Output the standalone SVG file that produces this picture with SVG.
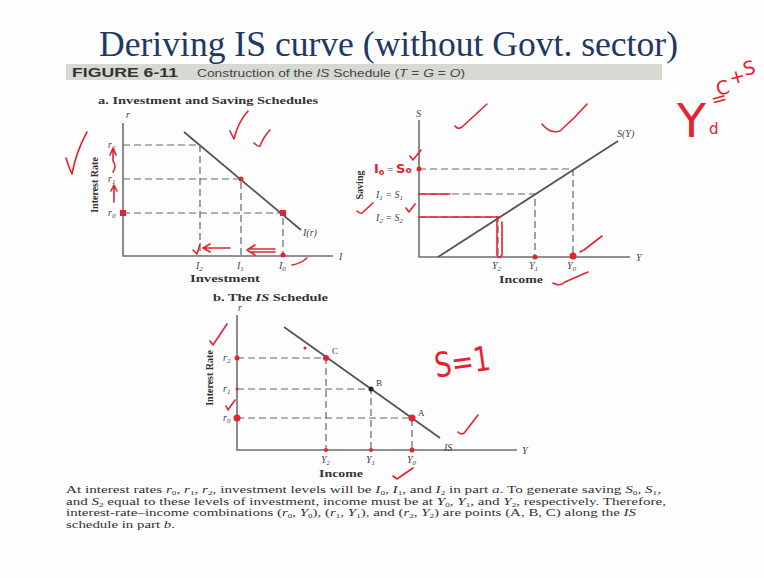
<svg xmlns="http://www.w3.org/2000/svg" width="764" height="578" viewBox="0 0 764 578">
<style>
.ax{stroke:#6e6e6e;stroke-width:1.6;fill:none}
.ds{stroke:#666;stroke-width:1.2;stroke-dasharray:7 4;fill:none}
.cv{stroke:#555;stroke-width:1.8;fill:none}
.lb{font-family:"Liberation Serif",serif;font-style:italic;font-size:10px;fill:#444}
.bd{font-family:"Liberation Serif",serif;font-weight:bold;font-size:10px;fill:#333}
.cap{font-family:"Liberation Serif",serif;font-size:10.8px;fill:#333}
.rd{stroke:#e3232e;stroke-width:1.6;fill:none;stroke-linecap:round;stroke-linejoin:round}
.rf{fill:#e3232e}
.hw{font-family:"DejaVu Sans",sans-serif;fill:#e3232e}
.sb{font-size:7px;baseline-shift:-2px}
.cs{font-size:6.5px;baseline-shift:-1.5px}
</style>
<rect width="764" height="578" fill="#fdfdfd"/>
<g id="title">
<text x="99" y="56" font-family="Liberation Serif,serif" font-size="36" fill="#1f3864" textLength="579" lengthAdjust="spacingAndGlyphs">Deriving IS curve (without Govt. sector)</text>
</g>
<g id="header">
<rect x="66" y="64" width="596" height="16" fill="#d6d9d1"/>
<text x="72" y="77" font-family="Liberation Sans,sans-serif" font-weight="bold" font-size="12" fill="#333" textLength="106" lengthAdjust="spacingAndGlyphs">FIGURE 6-11</text>
<text x="197" y="77" font-family="Liberation Sans,sans-serif" font-size="10" fill="#444" textLength="268" lengthAdjust="spacingAndGlyphs">Construction of the <tspan font-style="italic">IS</tspan> Schedule (<tspan font-style="italic">T</tspan> = <tspan font-style="italic">G</tspan> = <tspan font-style="italic">O</tspan>)</text>
<text x="98" y="104" class="bd" font-size="11" textLength="220" lengthAdjust="spacingAndGlyphs">a. Investment and Saving Schedules</text>
</g>
<g id="panel-investment">
<path class="ax" d="M123,123 V256 H333"/>
<text x="126" y="118" class="lb" font-size="9">r</text>
<text x="339" y="260" class="lb">I</text>
<path class="ds" d="M123,145 H200 V256 M123,179 H241 V256 M123,213 H283 V256"/>
<path class="cv" d="M184,132 L301,230"/>
<text x="303" y="236" class="lb" font-size="9">I(r)</text>
<text x="108" y="148" class="lb">r<tspan class="sb">2</tspan></text>
<text x="108" y="182" class="lb">r<tspan class="sb">1</tspan></text>
<text x="108" y="216" class="lb">r<tspan class="sb">0</tspan></text>
<text x="196" y="269" class="lb">I<tspan class="sb">2</tspan></text>
<text x="237" y="269" class="lb">I<tspan class="sb">1</tspan></text>
<text x="279" y="269" class="lb">I<tspan class="sb">0</tspan></text>
<text x="190" y="282" class="bd" font-size="10" textLength="70" lengthAdjust="spacingAndGlyphs">Investment</text>
<text transform="translate(98,185) rotate(-90)" class="bd" font-size="9.5" text-anchor="middle">Interest Rate</text>
</g>
<g id="panel-saving">
<path class="ax" d="M419,120 V257 H630"/>
<text x="416" y="117" class="lb" font-size="9">S</text>
<text x="636" y="261" class="lb" font-size="9">Y</text>
<path class="ds" d="M419,169 H573 V257 M419,194 H535 V257 M419,217 H498 V257"/>
<path class="cv" d="M438,257 L618,141"/>
<text x="617" y="137" class="lb" font-size="9">S(Y)</text>
<text x="376" y="198" class="lb">I<tspan class="sb">1</tspan> = S<tspan class="sb">1</tspan></text>
<text x="376" y="221" class="lb">I<tspan class="sb">2</tspan> = S<tspan class="sb">2</tspan></text>
<text x="492" y="269" class="lb">Y<tspan class="sb">2</tspan></text>
<text x="529" y="269" class="lb">Y<tspan class="sb">1</tspan></text>
<text x="567" y="269" class="lb">Y<tspan class="sb">0</tspan></text>
<text x="499" y="283" class="bd" font-size="10" textLength="44" lengthAdjust="spacingAndGlyphs">Income</text>
<text transform="translate(363,185) rotate(-90)" class="bd" font-size="9.5" text-anchor="middle">Saving</text>
</g>
<g id="panel-is">
<text x="213" y="301" class="bd" font-size="11" textLength="115" lengthAdjust="spacingAndGlyphs">b. The <tspan font-style="italic">IS</tspan> Schedule</text>
<path class="ax" d="M237,315 V450 H517"/>
<text x="238" y="311" class="lb" font-size="9">r</text>
<text x="522" y="454" class="lb" font-size="9">Y</text>
<path class="ds" d="M237,358 H326 V450 M237,389 H371 V450 M237,418 H412 V450"/>
<path class="cv" d="M284,327 L440,438"/>
<text x="444" y="451" class="lb" font-size="9">IS</text>
<text x="332" y="354" font-family="Liberation Serif,serif" font-size="9" fill="#333">C</text>
<text x="376" y="386" font-family="Liberation Serif,serif" font-size="9" fill="#333">B</text>
<text x="418" y="416" font-family="Liberation Serif,serif" font-size="9" fill="#333">A</text>
<circle cx="371" cy="389" r="2.5" fill="#222"/>
<text x="223" y="361" class="lb" font-size="9">r<tspan class="sb">2</tspan></text>
<text x="223" y="392" class="lb" font-size="9">r<tspan class="sb">1</tspan></text>
<text x="223" y="421" class="lb" font-size="9">r<tspan class="sb">0</tspan></text>
<text x="321" y="463" class="lb" font-size="9">Y<tspan class="sb">2</tspan></text>
<text x="366" y="463" class="lb" font-size="9">Y<tspan class="sb">1</tspan></text>
<text x="407" y="463" class="lb" font-size="9">Y<tspan class="sb">0</tspan></text>
<text x="319" y="477" class="bd" font-size="10" textLength="44" lengthAdjust="spacingAndGlyphs">Income</text>
<text transform="translate(213,378) rotate(-90)" class="bd" font-size="9.5" text-anchor="middle">Interest Rate</text>
</g>
<g id="caption" class="cap">
<text x="66" y="493" textLength="595" lengthAdjust="spacingAndGlyphs">At interest rates <tspan font-style="italic">r</tspan><tspan class="cs">0</tspan>, <tspan font-style="italic">r</tspan><tspan class="cs">1</tspan>, <tspan font-style="italic">r</tspan><tspan class="cs">2</tspan>, investment levels will be <tspan font-style="italic">I</tspan><tspan class="cs">0</tspan>, <tspan font-style="italic">I</tspan><tspan class="cs">1</tspan>, and <tspan font-style="italic">I</tspan><tspan class="cs">2</tspan> in part <tspan font-style="italic">a</tspan>. To generate saving <tspan font-style="italic">S</tspan><tspan class="cs">0</tspan>, <tspan font-style="italic">S</tspan><tspan class="cs">1</tspan>,</text>
<text x="66" y="504.5" textLength="600" lengthAdjust="spacingAndGlyphs">and <tspan font-style="italic">S</tspan><tspan class="cs">2</tspan> equal to these levels of investment, income must be at <tspan font-style="italic">Y</tspan><tspan class="cs">0</tspan>, <tspan font-style="italic">Y</tspan><tspan class="cs">1</tspan>, and <tspan font-style="italic">Y</tspan><tspan class="cs">2</tspan>, respectively. Therefore,</text>
<text x="66" y="516" textLength="570" lengthAdjust="spacingAndGlyphs">interest-rate–income combinations (<tspan font-style="italic">r</tspan><tspan class="cs">0</tspan>, <tspan font-style="italic">Y</tspan><tspan class="cs">0</tspan>), (<tspan font-style="italic">r</tspan><tspan class="cs">1</tspan>, <tspan font-style="italic">Y</tspan><tspan class="cs">1</tspan>), and (<tspan font-style="italic">r</tspan><tspan class="cs">2</tspan>, <tspan font-style="italic">Y</tspan><tspan class="cs">2</tspan>) are points (A, B, C) along the <tspan font-style="italic">IS</tspan></text>
<text x="66" y="527.5" textLength="109" lengthAdjust="spacingAndGlyphs">schedule in part <tspan font-style="italic">b</tspan>.</text>
</g>
<g id="annotations">
<rect x="120" y="210" width="6" height="6" class="rf"/>
<circle cx="241" cy="179" r="2.5" class="rf"/>
<rect x="280" y="210" width="6" height="6" class="rf"/>
<circle cx="283" cy="255" r="2.5" class="rf"/>
<path class="rd" d="M114,202 L114,186 M111,191 L114,185 L117,191 M113,172 Q117,166 113,161 L113,150 M110,155 L113,148 L116,155"/>
<path class="rd" d="M230,248 L204,248 M210,244 L203,248 L210,252 M275,249 L249,249 M275,252 L251,252 M255,245 L247,250 L255,255"/>
<path class="rd" d="M66,158 Q69,168 72,174 Q76,152 87,132 M230,131 L234,139 Q238,122 248,111 M254,143 Q258,147 260,146 Q264,136 270,130 M455,126 Q458,130 462,127 L487,104 M542,124 Q550,134 560,131 Q575,118 587,104 M410,156 L413,160 L421,150 M357,211 Q360,214 362,213 L373,203 M406,208 L409,212 L415,204 M580,252 L584,250 L602,236 M553,283 Q560,287 565,282 L588,272 M292,265 Q300,264 307,258 M193,250 L197,254 L200,244 M210,341 L213,345 L227,324 M226,406 L228,410 L235,400 M458,432 Q462,436 465,432 L478,415 M393,476 L397,479 L413,468"/>
<text x="374" y="173" class="hw" font-size="13" font-weight="bold">I<tspan font-size="8" baseline-shift="-2px">o</tspan><tspan fill="#555" font-family="Liberation Serif,serif" font-weight="normal" font-size="11"> = </tspan>S<tspan font-size="9">o</tspan></text>
<circle cx="419" cy="169" r="2.5" class="rf"/>
<path class="rd" d="M419,194 H450 M419,217 H500 M497,218 L497,255 Q499,260 502,255 L502,222"/>
<circle cx="535" cy="257" r="2.5" class="rf"/>
<circle cx="573" cy="256" r="3.5" class="rf"/>
<circle cx="237" cy="358" r="2.5" class="rf"/>
<circle cx="237" cy="389" r="1.5" class="rf"/>
<circle cx="237" cy="418" r="3.5" class="rf"/>
<circle cx="326" cy="358" r="3" class="rf"/>
<circle cx="412" cy="418" r="3.5" class="rf"/>
<circle cx="326" cy="450" r="2" class="rf"/>
<circle cx="371" cy="450" r="2" class="rf"/>
<circle cx="412" cy="450" r="2.5" class="rf"/>
<circle cx="305" cy="348" r="1.5" class="rf"/>
<text x="434" y="374" class="hw" font-size="34" textLength="56" lengthAdjust="spacingAndGlyphs" transform="rotate(-8 460 360)">S=1</text>
<text x="677" y="137" class="hw" font-size="46" textLength="29" lengthAdjust="spacingAndGlyphs">Y</text>
<text x="709" y="134" class="hw" font-size="15">d</text>
<text class="hw" font-size="19" x="713 718 731 745" y="107 96 85 76" rotate="-15">=C+S</text>
</g>
</svg>
